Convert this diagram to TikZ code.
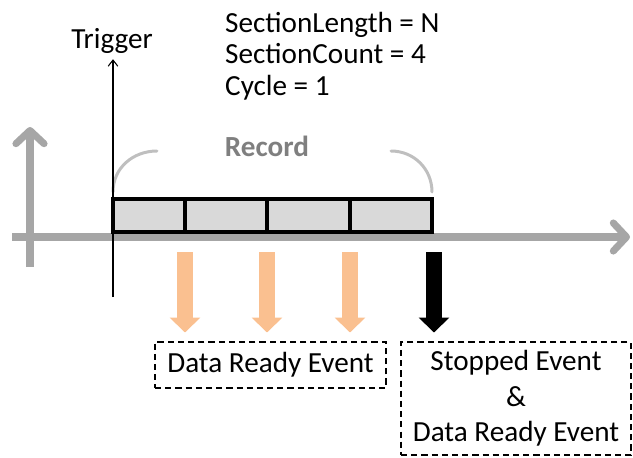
\documentclass[tikz,border=0pt]{standalone}
\usepackage{fontspec}
\setmainfont{Carlito}
\usetikzlibrary{arrows.meta}
\usetikzlibrary{calc, positioning}

\definecolor{axisgray}{HTML}{A6A6A6}
\definecolor{arcgray}{HTML}{BFBFBF}
\definecolor{recordgray}{HTML}{7F7F7F}
\definecolor{sectionfill}{HTML}{D9D9D9}
\definecolor{readyorange}{HTML}{FAC090}

\begin{document}
\begin{tikzpicture}[x=0.02cm, y=-0.02cm,
    every node/.style={font=\fontsize{16.6}{20.2}\selectfont},
    axis/.style={draw=axisgray, line width=4pt, -{Straight Barb[length=7.5pt,width=16pt,round]}},
    section/.style={draw=black, fill=sectionfill, line width=1.8pt},
    bracket/.style={draw=arcgray, line width=1.7pt, line cap=round},
    event_arrow/.style={line width=9pt, -{Triangle[length=8.5pt,width=17pt]}, shorten >=5pt},
    event_box/.style={draw, dash pattern=on 3.5pt off 2.3pt, line width=0.8pt, align=center}]
    \useasboundingbox (0,0) rectangle (633,457);

    % parameters
    \node[anchor=base west] (param_len) at (219,32) {SectionLength = N};
    \node[anchor=base west] (param_count) at (219,63) {SectionCount = 4};
    \node[anchor=base west] (param_cycle) at (219,95) {Cycle = 1};

    % time axes
    \coordinate (x_start) at (12,237);
    \coordinate (x_end) at (630,237);
    \coordinate (y_start) at (30,267);
    \coordinate (y_end) at (30,127);
    \draw[axis] (x_start) -- (x_end);
    \draw[axis] (y_start) -- (y_end);

    % record sections
    \foreach \a/\b in {113/185,185/267,267/350,350/432}
      \draw[section] (\a,199) rectangle (\b,232);
    \draw[bracket] (113,192) .. controls (113,168) and (133,151) .. (157,151);
    \draw[bracket] (391,151) .. controls (414,151) and (432,169) .. (432,192);
    \node[anchor=base, text=recordgray, font=\fontsize{16.6}{20.2}\selectfont\bfseries] (record_label) at (267,156) {Record};

    % trigger
    \node[anchor=base] (trig_label) at (112,48) {Trigger};
    \coordinate (trig_base) at (113,297);
    \draw[line width=0.6pt, -{Straight Barb[length=3.5pt,width=5.5pt]}] (trig_base) -- (trig_label.south -| trig_base);

    % events
    \node[event_box, minimum width=4.62cm, minimum height=0.92cm] (ev_ready) at (270.5,365) {Data Ready Event};
    \node[event_box, minimum width=4.6cm, minimum height=2.26cm] (ev_stop) at (516,398.5) {Stopped Event\\ \&\\ Data Ready Event};

    \foreach \x [count=\i] in {185,267,350}
      \coordinate (ready_\i) at (\x,252);
    \coordinate (stop_src) at (434,252);
    \foreach \i in {1,2,3}
      \draw[event_arrow, readyorange] (ready_\i) -- (ready_\i |- ev_ready.north);
    \draw[event_arrow, black] (stop_src) -- (stop_src |- ev_stop.north);

\end{tikzpicture}
\end{document}
